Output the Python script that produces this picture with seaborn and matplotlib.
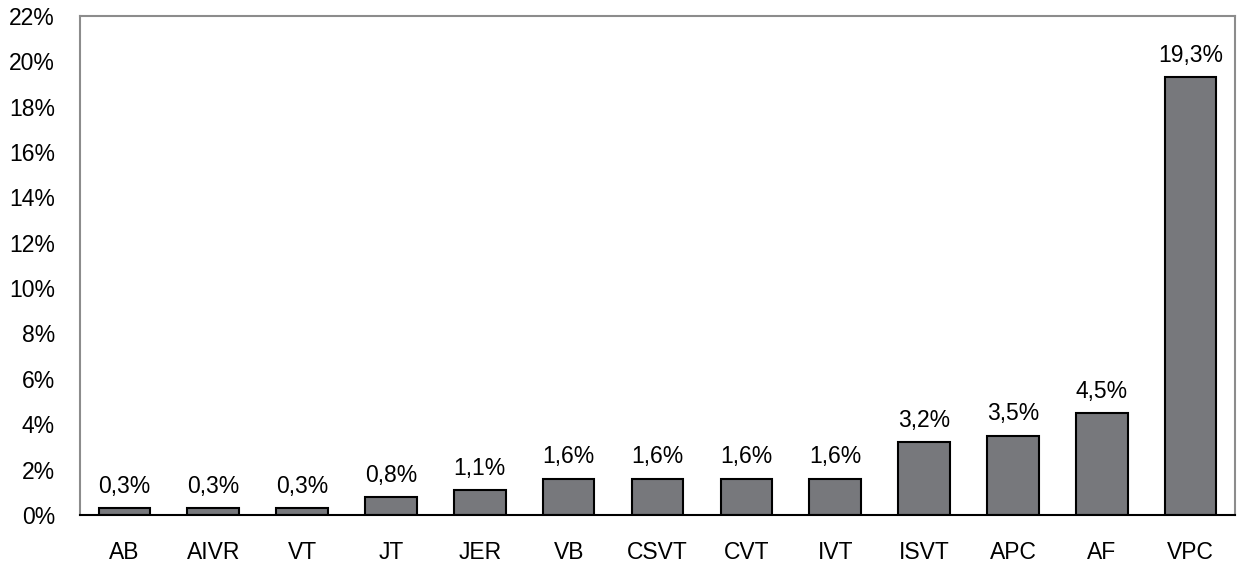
import pandas as pd
import matplotlib.pyplot as plt
import seaborn as sns

# Data
categories = ["AB", "AIVR", "VT", "JT", "JER", "VB", "CSVT", "CVT", "IVT", "ISVT", "APC", "AF", "VPC"]
percent = [0.3, 0.3, 0.3, 0.8, 1.1, 1.6, 1.6, 1.6, 1.6, 3.2, 3.5, 4.5, 19.3]
y_ticks = [0, 2, 4, 6, 8, 10, 12, 14, 16, 18, 20, 22]

df = pd.DataFrame({"Arrhythmia": categories, "Percent": percent})

sns.set_style("white")
plt.rcParams["font.family"] = ["Liberation Sans", "DejaVu Sans"]
plt.rcParams["text.color"] = "black"
plt.rcParams["xtick.color"] = "black"
plt.rcParams["ytick.color"] = "black"

fig = plt.figure(figsize=(12.4, 5.68), dpi=100)
ax = fig.add_axes([0.0645, 0.0933, 0.9315, 0.879])

sns.barplot(data=df, x="Arrhythmia", y="Percent", color="#77787c",
            edgecolor="black", linewidth=1.5, width=0.58, saturation=1, ax=ax)

# value labels with decimal comma
for i, v in enumerate(percent):
    ax.text(i, v + 0.45, f"{v:.1f}%".replace(".", ","), ha="center", va="bottom",
            fontsize=16.5, color="black")

ax.set_ylim(0, 22)
ax.set_yticks(y_ticks)
ax.set_yticklabels([f"{t}%" for t in y_ticks], fontsize=16.5)
ax.tick_params(axis="x", labelsize=16.5, pad=19, labelcolor="black")
ax.tick_params(axis="y", pad=18, labelcolor="black")
ax.tick_params(length=0)
ax.set_xlabel("")
ax.set_ylabel("")
ax.set_xlim(-0.5, len(categories) - 0.5)

for side in ["left", "top", "right"]:
    ax.spines[side].set_color("#8c8c8c")
    ax.spines[side].set_linewidth(1.5)
ax.spines["bottom"].set_color("black")
ax.spines["bottom"].set_linewidth(1.5)

fig.savefig("out.png", dpi=100)
